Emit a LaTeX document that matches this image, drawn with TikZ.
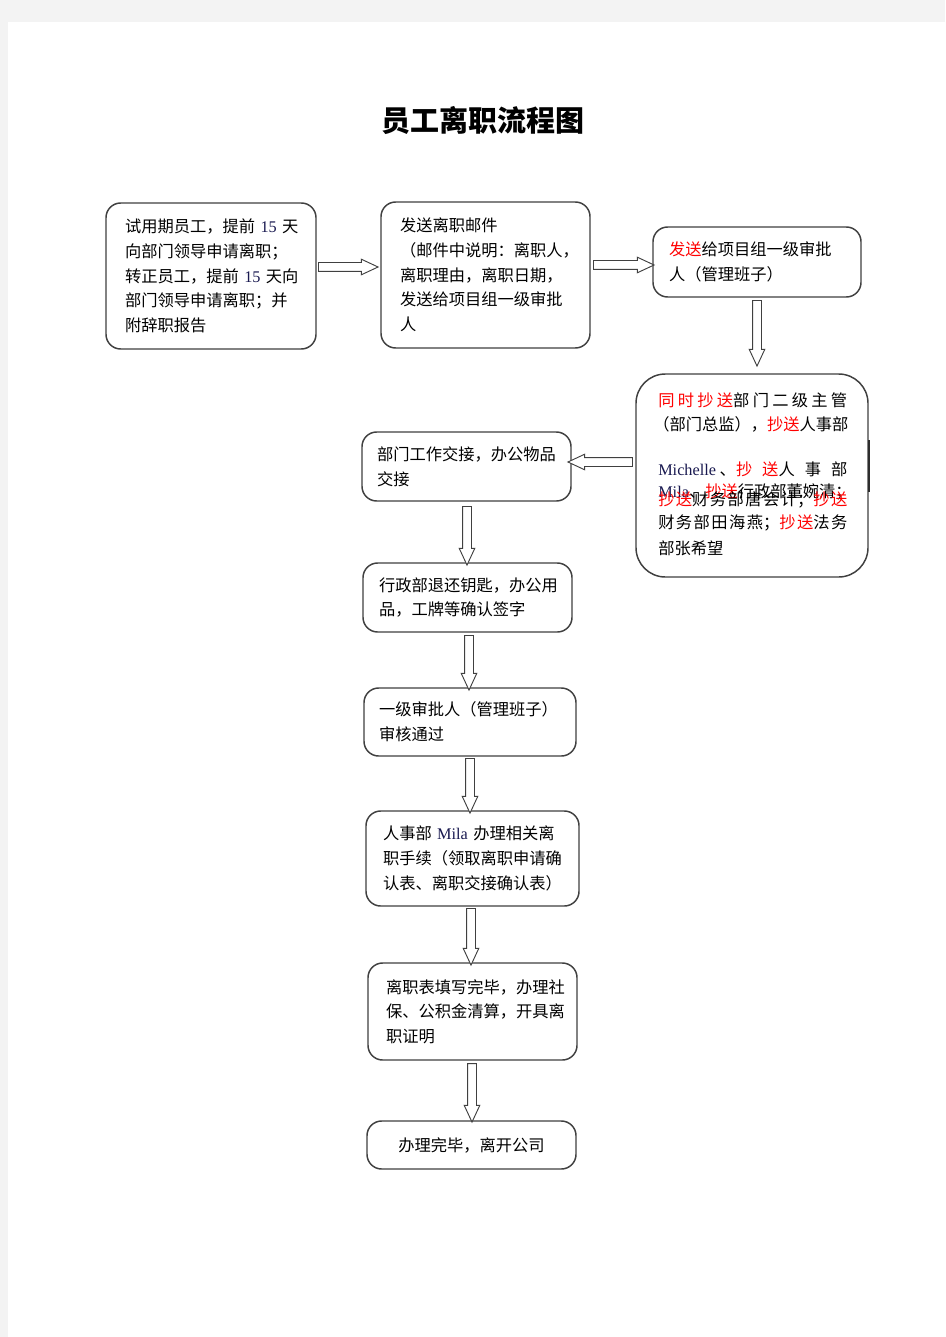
\documentclass[tikz,border=0pt]{standalone}
\usepackage{fontspec}
\setmainfont{Noto Sans CJK SC}
\newfontfamily\latin{Liberation Serif}
\usetikzlibrary{calc,shapes.arrows}

\definecolor{boxline}{RGB}{64,64,64}
\definecolor{pagegray}{RGB}{243,243,243}
\definecolor{ccred}{RGB}{255,0,0}
\definecolor{latinblue}{RGB}{25,25,80}

\newcommand\cc[1]{\textcolor{ccred}{#1}}
\newcommand\en[1]{{\latin\color{latinblue}#1}}
\newcommand\cjkspread{\XeTeXlinebreaklocale "zh"\XeTeXlinebreakskip=0pt plus 1fil minus 2pt\relax}
\newcommand\spreadline[1]{\parbox{141.75pt}{\cjkspread\parfillskip=0pt\relax\noindent #1}}
\newcommand\flow[2]{%
  \path let \p1=(#1), \p2=(#2), \n1={veclen(\x2-\x1,\y2-\y1)} in
    (\p1) -- node[flow arrow, minimum height=\n1] {} (\p2);}

\begin{document}
\begin{tikzpicture}[
  x=0.75pt,
  y=-0.75pt,
  box/.style={
    draw=boxline,
    line width=1.1pt,
    rounded corners=11pt,
    fill=white,
    align=left,
    inner sep=0pt,
    font=\fontsize{12.2pt}{18.5pt}\selectfont
  },
  cc line/.style={
    anchor=west,
    inner sep=0pt,
    font=\fontsize{12.2pt}{18.5pt}\selectfont
  },
  flow arrow/.style={
    single arrow,
    draw=boxline,
    fill=white,
    line width=0.7pt,
    inner sep=0pt,
    inner ysep=3pt,
    minimum width=0pt,
    single arrow head extend=2.5pt,
    single arrow tip angle=50,
    single arrow head indent=0pt,
    sloped,
    allow upside down
  },
]
\useasboundingbox (0,0) rectangle (945,1337);
\fill[pagegray] (0,0) rectangle (945,1337);
\fill[white] (8,22) rectangle (945,1337);

\node[font=\fontsize{21.75pt}{26pt}\selectfont\bfseries] (title) at (483,120) {员工离职流程图};

\node[box, minimum width=157.5pt, minimum height=109.5pt, text width=129pt] (b1) at (211,276)
  {试用期员工，提前~\en{15}~天\\向部门领导申请离职；\\转正员工，提前~\en{15}~天向\\部门领导申请离职；并\\附辞职报告};
\node[box, minimum width=156.75pt, minimum height=109.5pt, text width=128.25pt] (b2) at (485.5,275)
  {发送离职邮件\\（邮件中说明：离职人，\\离职理由，离职日期，\\发送给项目组一级审批\\人};
\node[box, minimum width=156pt, minimum height=52.5pt, text width=132pt] (b3) at (757,262)
  {\cc{发送}给项目组一级审批\\人（管理班子）};
\node[box, rounded corners=22pt, minimum width=174pt, minimum height=152.25pt] (b4) at (752,475.5) {};
\node[box, minimum width=156.75pt, minimum height=51.75pt, text width=134.25pt] (b5) at (466.5,466.5)
  {部门工作交接，办公物品\\交接};
\node[box, minimum width=156.75pt, minimum height=51.75pt, text width=132.75pt] (b6) at (467.5,597.5)
  {行政部退还钥匙，办公用\\品，工牌等确认签字};
\node[box, minimum width=159pt, minimum height=51pt, text width=136.5pt] (b7) at (470,722)
  {一级审批人（管理班子）\\审核通过};
\node[box, minimum width=159.75pt, minimum height=71.25pt, text width=134.25pt] (b8) at (472.5,858.5)
  {人事部~\en{Mila}~办理相关离\\职手续（领取离职申请确\\认表、离职交接确认表）};
\node[box, minimum width=156.75pt, minimum height=72.75pt, text width=129.75pt] (b9) at (472.5,1011.5)
  {离职表填写完毕，办理社\\保、公积金清算，开具离\\职证明};
\node[box, align=center, minimum width=156.75pt, minimum height=36pt] (b10) at (471.5,1145)
  {办理完毕，离开公司};

\node[cc line] (c1) at (658,400) {\spreadline{\cc{同时抄送}部门二级主管}};
\node[cc line] (c2) at (653,424) {（部门总监），\cc{抄送}人事部};
\node[cc line] (c3) at (658,469) {\spreadline{\en{Michelle}~、\cc{抄送}人事部}};
\node[cc line] (c4) at (658,492) {\en{Mila}、\cc{抄送}行政部董婉清；};
\node[cc line] (c5) at (658,500) {\spreadline{\cc{抄送}财务部唐会计；\cc{抄送}}};
\node[cc line] (c6) at (658,523) {\spreadline{财务部田海燕；\cc{抄送}法务}};
\node[cc line] (c7) at (658,548) {部张希望};
\draw[line width=1.6pt, boxline!70!black] (869,440) -- (869,492);

\flow{$(b1.east)+(-3,-9)$}{$(b2.west)+(-7,-8)$}
\flow{$(b2.east)+(-2,-10)$}{$(b3.west)+(-3,3)$}
\flow{$(b3.south)+(0,-2)$}{$(b4.north)+(5,-12)$}
\flow{$(b4.west)+(2,-13.5)$}{$(b5.east)+(1,-4.5)$}
\flow{$(b5.south)+(0.5,0)$}{$(b6.north)+(-0.5,-2)$}
\flow{$(b6.south)+(1.5,-2)$}{$(b7.north)+(-1,-2)$}
\flow{$(b7.south)+(0,-3)$}{$(b8.north)+(-2.5,-2)$}
\flow{$(b8.south)+(-1.5,-3)$}{$(b9.north)+(-1.5,-2)$}
\flow{$(b9.south)+(-0.5,-2)$}{$(b10.north)+(0.5,-3)$}
\end{tikzpicture}
\end{document}
